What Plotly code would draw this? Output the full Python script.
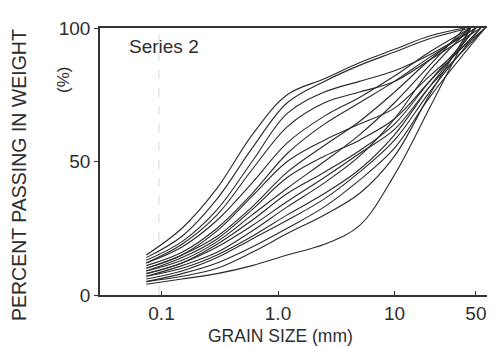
import plotly.graph_objects as go

# Sieve sizes (mm) shared by every curve; each curve ends at 100 % at its own max size
sieve_sizes = [0.074, 0.15, 0.3, 0.6, 1.2, 2.5, 5, 10, 20]

passing = [
    [15, 25, 40, 60, 75, 81, 87, 92, 97],
    [14, 22, 36, 55, 72, 80, 86, 91, 96],
    [13, 20, 32, 50, 68, 76, 80, 84, 90],
    [12, 19, 30, 47, 63, 72, 76, 80, 88],
    [12, 18, 28, 42, 57, 67, 74, 82, 91],
    [11, 16, 25, 38, 53, 64, 72, 80, 89],
    [10, 15, 24, 37, 50, 58, 64, 70, 82],
    [10, 15, 22, 33, 46, 56, 65, 76, 88],
    [9, 14, 21, 32, 44, 52, 58, 66, 80],
    [9, 13, 20, 30, 40, 50, 60, 72, 86],
    [8, 12, 19, 28, 38, 46, 54, 64, 80],
    [8, 12, 18, 26, 35, 44, 53, 62, 78],
    [7, 11, 16, 24, 33, 42, 52, 66, 84],
    [7, 10, 15, 22, 30, 38, 47, 60, 78],
    [6, 9, 14, 21, 28, 36, 46, 58, 76],
    [5, 8, 12, 18, 25, 33, 43, 55, 74],
    [5, 7, 10, 16, 23, 30, 38, 52, 75],
    [4, 6, 8, 11, 15, 19, 26, 45, 70],
]
max_size = [40, 45, 50, 55, 45, 50, 60, 45, 55, 40, 50, 60, 45, 50, 55, 60, 45, 45]

x_ticks = [0.1, 1, 10, 50]
x_tick_labels = ["0.1", "1.0", "10", "50"]
y_ticks = [0, 50, 100]

fig = go.Figure()
for vals, mx in zip(passing, max_size):
    fig.add_trace(go.Scatter(
        x=sieve_sizes + [mx], y=vals + [100], mode="lines",
        line=dict(color="#2a2a2a", width=1.1, shape="spline", smoothing=1.0),
        showlegend=False, hoverinfo="skip"))

font = "Liberation Sans, Arial, sans-serif"
L, R, T, B = 100, 13, 28, 52
W, H = 500, 347
fig.update_layout(
    width=W, height=H,
    margin=dict(l=L, r=R, t=T, b=B),
    paper_bgcolor="white", plot_bgcolor="white",
    font=dict(family=font, color="#2e2e2e", size=18),
    xaxis=dict(type="log", range=[-1.528, 1.794], tickvals=x_ticks, ticktext=x_tick_labels,
               showline=True, linecolor="#333", linewidth=1.5, mirror=True,
               ticks="inside", ticklen=4, tickcolor="#333", showgrid=False, zeroline=False,
               tickfont=dict(size=19)),
    yaxis=dict(range=[0, 100], tickvals=y_ticks, showline=True, linecolor="#333", linewidth=1.5,
               ticks="outside", ticklen=4, tickcolor="#333", showgrid=False, zeroline=False,
               tickfont=dict(size=19)),
)

# faint scan ghost line near 0.1
fig.add_shape(type="line", xref="x", yref="paper", x0=0.095, x1=0.095, y0=0, y1=1,
              line=dict(color="#d8d8d8", width=1, dash="dash"), layer="below")

pw, ph = W - L - R, H - T - B
def ann(text, px, py, size, angle=0):
    fig.add_annotation(text=text, x=(px - L) / pw, y=(H - B - py) / ph,
                       xref="paper", yref="paper", xanchor="center", yanchor="middle",
                       showarrow=False, textangle=angle, font=dict(size=size))

ann("PERCENT PASSING IN WEIGHT", 19, 175, 19.5, -90)
ann("(%)", 63, 80, 17, -90)
ann("GRAIN SIZE (mm)", 280, 336, 17.5)
ann("Series 2", 164, 47, 19)

fig.write_html("out.html", config={"displayModeBar": False},
               post_script="document.body.style.margin='0';document.body.style.overflow='hidden';")
